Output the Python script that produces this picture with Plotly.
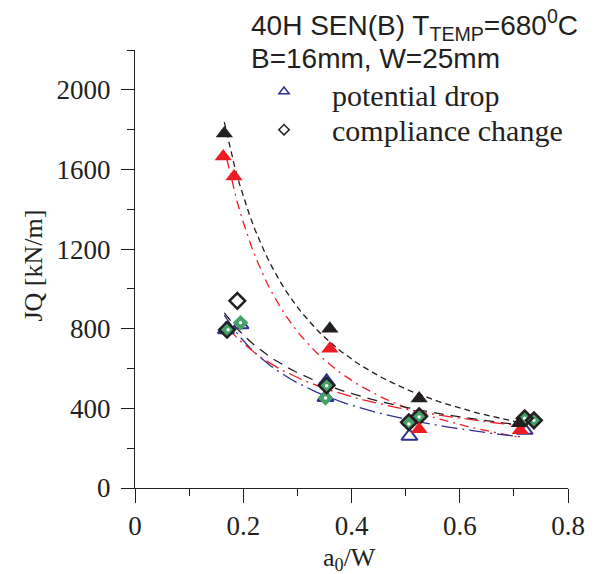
import numpy as np
import plotly.graph_objects as go

# ---- data ----
blk_tri_x = [0.165, 0.360, 0.525, 0.710]
blk_tri_y = [1780, 800, 450, 325]

red_tri_x = [0.163, 0.183, 0.360, 0.525, 0.712]
red_tri_y = [1665, 1565, 700, 295, 290]

pd_x = [0.168, 0.195, 0.352, 0.354, 0.507, 0.720]
pd_y = [795, 820, 455, 535, 260, 290]

grn_x = [0.172, 0.195, 0.352, 0.354, 0.506, 0.525, 0.720, 0.737]
grn_y = [795, 830, 452, 513, 322, 357, 350, 340]

cc_x = [0.170, 0.189, 0.354, 0.506, 0.525, 0.720, 0.737]
cc_y = [795, 940, 515, 330, 360, 350, 340]

x_ticks = [0, 0.2, 0.4, 0.6, 0.8]
x_ticktext = ["0", "0.2", "0.4", "0.6", "0.8"]
y_ticks = [0, 400, 800, 1200, 1600, 2000]
legend_labels = ["potential drop", "compliance change"]

BLACK = "#231f20"
RED = "#ed1c24"
BLUE = "#2e3192"
GREEN = "#45a06a"
SERIF = "Liberation Serif"
SANS = "Liberation Sans"


def power_fit(xs, ys, x0, x1):
    b, a = np.polyfit(np.log(xs), np.log(ys), 1)
    xx = np.linspace(x0, x1, 60)
    return xx, np.exp(a) * xx ** b


fig = go.Figure()

# fit curves
fits = [
    (blk_tri_x, blk_tri_y, 0.165, 0.72, BLACK, "6px,4px"),
    (red_tri_x, red_tri_y, 0.17, 0.71, RED, "9px,5px,2px,5px"),
    (pd_x, pd_y, 0.165, 0.72, BLUE, "16px,5px,2px,5px"),
    (cc_x, cc_y, 0.165, 0.72, BLACK, "10px,7px"),
    (grn_x, grn_y, 0.17, 0.72, RED, "14px,5px,2px,5px"),
]
for xs, ys, x0, x1, col, dash in fits:
    fx, fy = power_fit(xs, ys, x0, x1)
    fig.add_trace(go.Scatter(x=fx, y=fy, mode="lines", showlegend=False,
                             line=dict(color=col, width=1.3, dash=dash),
                             hoverinfo="skip"))

# markers
fig.add_trace(go.Scatter(x=pd_x, y=pd_y, mode="markers", showlegend=False,
                         marker=dict(symbol="triangle-up-open", size=14, color=BLUE,
                                     line=dict(width=2, color=BLUE))))
fig.add_trace(go.Scatter(x=grn_x, y=grn_y, mode="markers", showlegend=False,
                         marker=dict(symbol="diamond", size=12, color=GREEN,
                                     line=dict(width=0))))
fig.add_trace(go.Scatter(x=grn_x, y=grn_y, mode="markers", showlegend=False,
                         marker=dict(symbol="circle", size=3.5, color="white",
                                     line=dict(width=0))))
fig.add_trace(go.Scatter(x=cc_x, y=cc_y, mode="markers", showlegend=False,
                         marker=dict(symbol="diamond-open", size=12, color=BLACK,
                                     line=dict(width=2.5, color=BLACK))))
fig.add_trace(go.Scatter(x=red_tri_x, y=red_tri_y, mode="markers", showlegend=False,
                         marker=dict(symbol="triangle-up", size=15, color=RED,
                                     line=dict(width=0))))
fig.add_trace(go.Scatter(x=blk_tri_x, y=blk_tri_y, mode="markers", showlegend=False,
                         marker=dict(symbol="triangle-up", size=15, color=BLACK,
                                     line=dict(width=0))))

# legend symbols (labels are drawn as annotations for exact spacing)
fig.add_trace(go.Scatter(x=[None], y=[None], mode="markers", name=" ",
                         marker=dict(symbol="triangle-up-open", size=9, color=BLUE,
                                     line=dict(width=1.5, color=BLUE))))
fig.add_trace(go.Scatter(x=[None], y=[None], mode="markers", name="  ",
                         marker=dict(symbol="diamond-open", size=8, color=BLACK,
                                     line=dict(width=1.5, color=BLACK))))

annotations = [
    dict(text="40H SEN(B) T<sub>TEMP</sub>=680<sup>0</sup>C", xref="paper", yref="paper",
         x=0.264, y=1.058, xanchor="left", yanchor="middle", showarrow=False,
         font=dict(family=SANS, size=28, color=BLACK)),
    dict(text="B=16mm, W=25mm", xref="paper", yref="paper",
         x=0.264, y=0.98, xanchor="left", yanchor="middle", showarrow=False,
         font=dict(family=SANS, size=28, color=BLACK)),
    dict(text="JQ [kN/m]", xref="paper", yref="paper", x=-0.234, y=0.507,
         xanchor="center", yanchor="middle", textangle=-90, showarrow=False,
         font=dict(family=SERIF, size=26, color=BLACK)),
    dict(text="a<sub>0</sub>/W", xref="paper", yref="paper", x=0.495, y=-0.162,
         xanchor="center", yanchor="middle", showarrow=False,
         font=dict(family=SERIF, size=26, color=BLACK)),
]
for i, lab in enumerate(legend_labels):
    annotations.append(dict(text=lab, xref="paper", yref="paper",
                            x=0.45, y=0.897 - i * 0.08, xanchor="left", yanchor="middle",
                            showarrow=False,
                            font=dict(family=SERIF, size=30, color=BLACK)))

fig.update_layout(
    width=597, height=574,
    margin=dict(l=135, r=26, t=50, b=86),
    paper_bgcolor="white", plot_bgcolor="white",
    font=dict(family=SERIF, size=27, color=BLACK),
    showlegend=True,
    legend=dict(x=0.298, y=0.960, xanchor="left", yanchor="top",
                bgcolor="rgba(0,0,0,0)", itemwidth=30,
                font=dict(family=SERIF, size=27, color=BLACK),
                tracegroupgap=0),
    xaxis=dict(range=[0, 0.8], tickvals=x_ticks, ticktext=x_ticktext,
               showgrid=False, zeroline=False, showline=True, linecolor=BLACK, linewidth=1,
               ticks="outside", ticklen=14, tickwidth=1, tickcolor=BLACK,
               ticklabelstandoff=0,
               minor=dict(dtick=0.1, ticks="outside", ticklen=7, tickcolor=BLACK, showgrid=False),
               tickfont=dict(family=SERIF, size=27, color=BLACK)),
    yaxis=dict(range=[0, 2200], tickvals=y_ticks,
               showgrid=False, zeroline=False, showline=True, linecolor=BLACK, linewidth=1,
               ticks="outside", ticklen=13, tickwidth=1, tickcolor=BLACK,
               ticklabelstandoff=5,
               minor=dict(dtick=200, ticks="outside", ticklen=7, tickcolor=BLACK, showgrid=False),
               tickfont=dict(family=SERIF, size=27, color=BLACK)),
    annotations=annotations,
)

fig.write_html("out.html", config={"displayModeBar": False},
               post_script="document.body.style.margin='0px';")
